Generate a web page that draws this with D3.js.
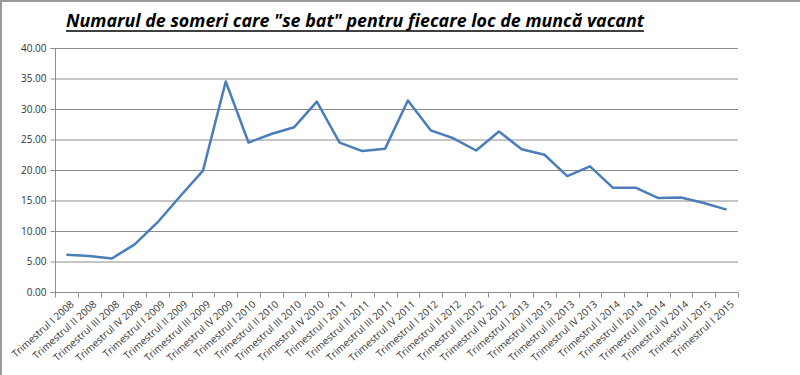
<!DOCTYPE html>
<html>
<head>
<meta charset="utf-8">
<script src="https://cdn.jsdelivr.net/npm/d3@7"></script>
<style>
  html, body { margin: 0; padding: 0; background: #fff; }
  svg { display: block; }
</style>
</head>
<body>
<div id="chart"></div>
<script>
// categorii (trimestre) - ultima eticheta apare de doua ori in original
const CATEGORII = [
  "Trimestrul I 2008", "Trimestrul II 2008", "Trimestrul III 2008", "Trimestrul IV 2008",
  "Trimestrul I 2009", "Trimestrul II 2009", "Trimestrul III 2009", "Trimestrul IV 2009",
  "Trimestrul I 2010", "Trimestrul II 2010", "Trimestrul III 2010", "Trimestrul IV 2010",
  "Trimestrul I 2011", "Trimestrul II 2011", "Trimestrul III 2011", "Trimestrul IV 2011",
  "Trimestrul I 2012", "Trimestrul II 2012", "Trimestrul III 2012", "Trimestrul IV 2012",
  "Trimestrul I 2013", "Trimestrul II 2013", "Trimestrul III 2013", "Trimestrul IV 2013",
  "Trimestrul I 2014", "Trimestrul II 2014", "Trimestrul III 2014", "Trimestrul IV 2014",
  "Trimestrul I 2015", "Trimestrul I 2015"
];

// numar de someri pe loc de munca vacant
const VALORI = [
  6.1, 5.9, 5.5, 7.8,
  11.4, 15.7, 19.9, 34.5,
  24.5, 25.9, 27.0, 31.2,
  24.5, 23.1, 23.5, 31.4,
  26.5, 25.2, 23.2, 26.3,
  23.4, 22.5, 19.0, 20.6,
  17.1, 17.1, 15.4, 15.5,
  14.6, 13.5
];

const Y_TICKS = [0, 5, 10, 15, 20, 25, 30, 35, 40];

const TITLU = "Numarul de someri care \"se bat\" pentru fiecare loc de muncă vacant";

const W = 800, H = 375;
const margin = { top: 48, right: 62, bottom: 83, left: 55 };
const width  = W - margin.left - margin.right;
const height = H - margin.top - margin.bottom;

const root = d3.select("#chart")
  .append("svg")
  .attr("width", W)
  .attr("height", H);

// rama gri (stanga + sus)
root.append("line")
  .attr("x1", 1).attr("x2", 1).attr("y1", 0).attr("y2", H)
  .attr("stroke", "#9a9a9a").attr("stroke-width", 2);
root.append("line")
  .attr("x1", 0).attr("x2", W).attr("y1", 1).attr("y2", 1)
  .attr("stroke", "#9a9a9a").attr("stroke-width", 2);

// titlu
root.append("text")
  .attr("x", 66)
  .attr("y", 27)
  .attr("font-family", "'Open Sans', sans-serif")
  .attr("font-size", "18px")
  .attr("font-weight", "bold")
  .attr("font-style", "italic")
  .attr("fill", "#000")
  .attr("textLength", 578)
  .attr("lengthAdjust", "spacingAndGlyphs")
  .text(TITLU);

root.append("line")
  .attr("x1", 66).attr("x2", 66 + 578)
  .attr("y1", 31).attr("y2", 31)
  .attr("stroke", "#000").attr("stroke-width", 1.5);

const svg = root.append("g")
  .attr("transform", `translate(${margin.left},${margin.top})`);

const x = d3.scaleBand()
  .domain(d3.range(CATEGORII.length))
  .range([0, width]);

const y = d3.scaleLinear()
  .domain([0, 40])
  .range([height, 0]);

// grid orizontal
svg.append("g")
  .selectAll("line")
  .data(Y_TICKS.filter(d => d > 0))
  .enter()
  .append("line")
  .attr("x1", 0).attr("x2", width)
  .attr("y1", d => y(d) + 0.5).attr("y2", d => y(d) + 0.5)
  .attr("stroke", "#8c8c8c")
  .attr("stroke-width", 1);

// axa y
const yAxis = svg.append("g")
  .attr("transform", "translate(0.5,0)")
  .call(d3.axisLeft(y).tickValues(Y_TICKS).tickFormat(d3.format(".2f")).tickSize(5).tickPadding(4));
yAxis.select(".domain").attr("stroke", "#8c8c8c").attr("d", `M-5,${y(40) + 0.5}H0V${height + 0.5}H-5`);
yAxis.selectAll(".tick line").attr("stroke", "#8c8c8c");
yAxis.selectAll(".tick text")
  .attr("fill", "#333")
  .attr("font-family", "'Open Sans', sans-serif")
  .attr("font-size", "10px");

// axa x
const xAxis = svg.append("g")
  .attr("transform", `translate(0,${height + 0.5})`)
  .call(d3.axisBottom(x).tickSize(0).tickFormat(i => CATEGORII[i]));
xAxis.select(".domain").attr("stroke", "#8c8c8c").attr("d", `M0,0H${width}`);
xAxis.selectAll(".tick text")
  .attr("fill", "#333")
  .attr("font-family", "'Open Sans', sans-serif")
  .attr("font-size", "10px")
  .attr("text-anchor", "end")
  .attr("transform", "translate(2,6) rotate(-42)")
  .attr("dy", "0.6em");

// liniute intre categorii
xAxis.append("g")
  .selectAll("line")
  .data(d3.range(CATEGORII.length + 1))
  .enter()
  .append("line")
  .attr("x1", i => Math.round(i * x.step()) + 0.5)
  .attr("x2", i => Math.round(i * x.step()) + 0.5)
  .attr("y1", 0).attr("y2", 5)
  .attr("stroke", "#8c8c8c");

// linia seriei
const linie = d3.line()
  .x((d, i) => x(i) + x.bandwidth() / 2)
  .y(d => y(d));

svg.append("path")
  .datum(VALORI)
  .attr("fill", "none")
  .attr("stroke", "#4a7ebb")
  .attr("stroke-width", 2.5)
  .attr("stroke-linejoin", "round")
  .attr("d", linie);
</script>
</body>
</html>
